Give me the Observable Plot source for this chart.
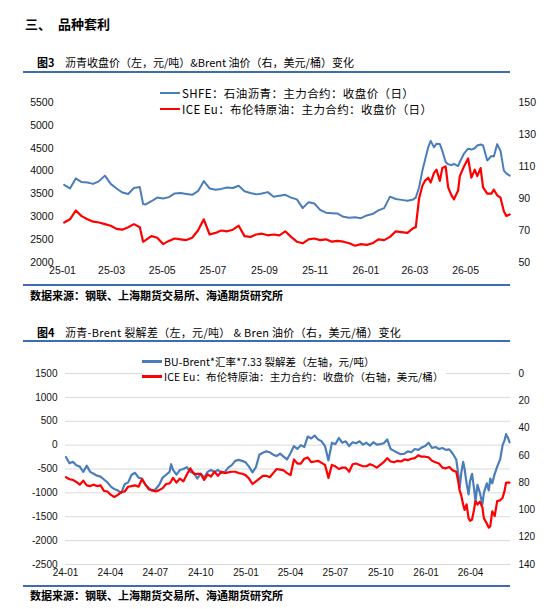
<!DOCTYPE html>
<html>
<head>
<meta charset="utf-8">
<script src="https://cdn.jsdelivr.net/npm/d3@7"></script>
<script src="https://cdn.jsdelivr.net/npm/@observablehq/plot@0.6"></script>
<style>
  body { margin: 0; background: #fff; }
  #page { position: relative; width: 550px; height: 609px; overflow: hidden; background: #fff;
          font-family: "Noto Sans CJK SC", sans-serif; color: #000; }
  .t { position: absolute; white-space: nowrap; }
  .rule { position: absolute; left: 23px; width: 487px; height: 2px; background: #3f6bb0; }
  .chart { position: absolute; left: 0; }
  .legend { position: absolute; background: #fff; white-space: nowrap; padding-right: 2px; }
  .legend .row { display: flex; align-items: center; }
  .legend .sw { width: 20px; height: 2.2px; margin-right: 2px; flex: none; }
</style>
</head>
<body>
<div id="page">
  <div class="t" style="left:25px;top:17px;font-size:13px;line-height:14px;font-weight:bold;">三、</div>
  <div class="t" style="left:58px;top:17px;font-size:13px;line-height:14px;font-weight:bold;">品种套利</div>

  <div class="t" style="left:37px;top:56px;font-size:11px;line-height:12px;font-weight:bold;">图3</div>
  <div class="t" style="left:65px;top:56px;font-size:11px;line-height:12px;">沥青收盘价（左，元/吨）&amp;Brent 油价（右，美元/桶）变化</div>
  <div class="rule" style="top:71px;"></div>

  <div id="chart1" class="chart" style="top:80px;"></div>
  <div class="legend" style="left:160px;top:85px;font-size:11.5px;letter-spacing:0.4px;">
    <div class="row" style="height:16px;"><div class="sw" style="background:#4a7ebb"></div>SHFE：石油沥青：主力合约：收盘价（日）</div>
    <div class="row" style="height:16px;"><div class="sw" style="background:#ff0000"></div>ICE Eu：布伦特原油：主力合约：收盘价（日）</div>
  </div>

  <div class="rule" style="top:284px;"></div>
  <div class="t" style="left:30px;top:289px;font-size:11px;line-height:13px;font-weight:bold;">数据来源：钢联、上海期货交易所、海通期货研究所</div>

  <div class="t" style="left:37px;top:326px;font-size:11px;line-height:12px;font-weight:bold;">图4</div>
  <div class="t" style="left:65px;top:326px;font-size:11px;line-height:12px;letter-spacing:0.3px;">沥青-Brent 裂解差（左，元/吨） &amp; Bren 油价（右，美元/桶）变化</div>
  <div class="rule" style="top:340px;"></div>

  <div id="chart2" class="chart" style="top:345px;"></div>
  <div class="legend" style="left:142px;top:354px;font-size:10.5px;letter-spacing:0.1px;">
    <div class="row" style="height:15px;"><div class="sw" style="background:#4a7ebb"></div>BU-Brent*汇率*7.33 裂解差（左轴，元/吨）</div>
    <div class="row" style="height:15px;"><div class="sw" style="background:#ff0000"></div>ICE Eu：布伦特原油：主力合约：收盘价（右轴，美元/桶）</div>
  </div>

  <div class="rule" style="top:585px;"></div>
  <div class="t" style="left:30px;top:589px;font-size:11px;line-height:13px;font-weight:bold;">数据来源：钢联、上海期货交易所、海通期货研究所</div>
</div>

<script>
// ---------- Figure 3: asphalt close (left, CNY/t) and Brent (right, USD/bbl) ----------
const chart1Dates = [
  "2025-01-03","2025-01-10","2025-01-17","2025-01-24","2025-01-31",
  "2025-02-07","2025-02-14","2025-02-21","2025-02-28",
  "2025-03-07","2025-03-14","2025-03-21","2025-03-28",
  "2025-04-04","2025-04-08","2025-04-11","2025-04-18","2025-04-25",
  "2025-05-02","2025-05-09","2025-05-16","2025-05-23","2025-05-30",
  "2025-06-06","2025-06-13","2025-06-20","2025-06-27",
  "2025-07-04","2025-07-11","2025-07-18","2025-07-25",
  "2025-08-01","2025-08-08","2025-08-15","2025-08-22","2025-08-29",
  "2025-09-05","2025-09-12","2025-09-19","2025-09-26",
  "2025-10-03","2025-10-10","2025-10-17","2025-10-24","2025-10-31",
  "2025-11-07","2025-11-14","2025-11-21","2025-11-28",
  "2025-12-05","2025-12-12","2025-12-19","2025-12-26",
  "2026-01-02","2026-01-09","2026-01-16","2026-01-23","2026-01-30",
  "2026-02-06","2026-02-13","2026-02-20","2026-02-27",
  "2026-03-02","2026-03-06","2026-03-10","2026-03-13","2026-03-17","2026-03-20","2026-03-24","2026-03-27","2026-03-31",
  "2026-04-03","2026-04-07","2026-04-10","2026-04-14","2026-04-17","2026-04-22","2026-04-24","2026-04-29",
  "2026-05-04","2026-05-08","2026-05-12","2026-05-15","2026-05-19","2026-05-22","2026-05-27",
  "2026-06-01","2026-06-04","2026-06-08","2026-06-12","2026-06-16","2026-06-19","2026-06-23"
];
const shfeAsphaltClose = [
  3700,3620,3840,3760,3750,
  3720,3780,3900,3720,
  3620,3530,3500,3630,
  3650,3280,3270,3340,3420,
  3400,3430,3510,3520,3500,
  3480,3560,3780,3620,
  3590,3610,3640,3630,
  3680,3560,3520,3490,3510,
  3540,3440,3460,3480,
  3420,3380,3190,3320,3290,
  3150,3090,3080,3070,
  3000,2980,2990,2970,
  3030,3060,3140,3190,3440,
  3390,3370,3350,3380,
  3420,3640,4010,4230,4520,4660,4520,4600,4590,
  4440,4200,4150,4130,4160,4110,4200,4380,
  4490,4470,4500,4560,4580,4560,4230,
  4330,4320,4590,4440,4010,3950,3900
];
const iceBrentClose1 = [
  75,77,82.5,79,77,
  75.5,75,74,73,
  71,70.5,72,74,
  72,63,64,66.5,65.5,
  61.5,63.5,65,64.5,64,
  65.5,70,77,67.5,
  68.5,70,69.5,70.5,
  73,66.5,66,67.5,68,
  67,67.5,67,69.5,
  66,63,62,64.5,65,
  64,64.5,63,63.5,
  63,62,60.5,61.5,
  61,62,64.5,64,66,
  69.5,69,68.5,71.5,
  72,90,98,101,103,100,106,108,101,
  109,110,97,92,89.5,95,104,110,
  115,103,108,104,109,97,93,
  93,95.5,92,90.5,82,79,80
];
const chart1Ticks = ["2025-01-01","2025-03-01","2025-05-01","2025-07-01","2025-09-01","2025-11-01","2026-01-01","2026-03-01","2026-05-01"];
const chart1LeftTicks = [2000,2500,3000,3500,4000,4500,5000,5500];
const chart1RightTicks = [50,70,90,110,130,150];

// ---------- Figure 4: BU-Brent crack (left, CNY/t) and Brent (right, reversed) ----------
const chart2Dates = [
  "2024-01-02","2024-01-09","2024-01-16","2024-01-23","2024-01-30",
  "2024-02-06","2024-02-13","2024-02-20","2024-02-27",
  "2024-03-05","2024-03-12","2024-03-19","2024-03-26",
  "2024-04-02","2024-04-09","2024-04-16","2024-04-23","2024-04-30",
  "2024-05-07","2024-05-14","2024-05-21","2024-05-28",
  "2024-06-04","2024-06-11","2024-06-18","2024-06-25",
  "2024-07-02","2024-07-09","2024-07-16","2024-07-23","2024-07-30",
  "2024-08-02","2024-08-06","2024-08-13","2024-08-20","2024-08-27",
  "2024-09-03","2024-09-10","2024-09-17","2024-09-24",
  "2024-10-01","2024-10-08","2024-10-15","2024-10-22","2024-10-29",
  "2024-11-05","2024-11-12","2024-11-19","2024-11-26",
  "2024-12-03","2024-12-10","2024-12-17","2024-12-24","2024-12-31",
  "2025-01-07","2025-01-14","2025-01-21","2025-01-28",
  "2025-02-04","2025-02-11","2025-02-18","2025-02-25",
  "2025-03-04","2025-03-11","2025-03-18","2025-03-25",
  "2025-04-01","2025-04-08","2025-04-15","2025-04-22","2025-04-29",
  "2025-05-06","2025-05-13","2025-05-20","2025-05-27",
  "2025-06-03","2025-06-10","2025-06-17","2025-06-24",
  "2025-07-01","2025-07-08","2025-07-15","2025-07-22","2025-07-29",
  "2025-08-05","2025-08-12","2025-08-19","2025-08-26",
  "2025-09-02","2025-09-09","2025-09-16","2025-09-23","2025-09-30",
  "2025-10-07","2025-10-14","2025-10-21","2025-10-28",
  "2025-11-04","2025-11-11","2025-11-18","2025-11-25",
  "2025-12-02","2025-12-09","2025-12-16","2025-12-23","2025-12-30",
  "2026-01-06","2026-01-13","2026-01-20","2026-01-27",
  "2026-02-03","2026-02-10","2026-02-17","2026-02-24",
  "2026-03-03","2026-03-07","2026-03-10","2026-03-13","2026-03-17","2026-03-20","2026-03-24","2026-03-28","2026-03-31",
  "2026-04-04","2026-04-08","2026-04-11","2026-04-15","2026-04-20","2026-04-25","2026-04-28",
  "2026-05-04","2026-05-08","2026-05-11","2026-05-15","2026-05-20","2026-05-25","2026-05-31",
  "2026-06-05","2026-06-09","2026-06-12","2026-06-16","2026-06-19"
];
const buBrentCrack = [
  -250,-380,-350,-420,-450,
  -560,-430,-560,-600,
  -640,-660,-720,-780,
  -870,-920,-950,-1000,-820,
  -780,-620,-580,-680,
  -700,-830,-900,-960,
  -920,-830,-680,-620,-560,
  -400,-520,-620,-520,-500,
  -460,-560,-580,-700,
  -600,-680,-560,-520,-560,
  -520,-580,-560,-470,
  -420,-330,-310,-330,-360,
  -450,-570,-460,-200,
  -160,-130,-150,-200,
  -230,-180,-240,-300,
  -170,-20,-80,0,-40,
  180,140,200,120,
  80,-20,-320,50,
  20,150,50,80,-20,
  60,40,80,10,
  50,-10,60,10,20,
  40,120,-80,-120,
  -160,-190,-180,-130,
  -150,-80,-100,-50,-20,
  50,-60,-40,-80,
  -60,-100,-90,-180,
  -300,-600,-890,-600,-350,-500,-800,-1030,-750,
  -600,-900,-1170,-830,-1000,-1240,-1000,
  -800,-950,-700,-800,-600,-450,-300,
  0,100,230,150,60
];
const iceBrentClose2 = [
  76,77.5,78,79.5,81.5,
  78.5,82,82.5,81.5,
  82.5,82,86,86.5,
  89,90.5,89,87,86.5,
  83,82.5,82,83,
  77.5,81.5,85,85.5,
  86.5,85.5,84,81,80.5,
  79,76.5,80,77,79,
  74,69.5,73.5,73.5,
  73.5,78,74,75.5,72,
  75,72,73,72.5,
  72,72,73,73.5,74.5,
  77,81,79,77,
  75,75,76,73,
  70,70.5,71,73,
  74.5,63,66,66,62.5,
  61.5,65,64.5,64,
  65.5,67,76.5,67,
  68,70,69,69,72,
  66.5,66,67,68,
  68,66.5,67.5,69,67,
  65,62,64.5,65,
  64,64.5,63,63.5,
  62.5,62,60,61,61,
  61.5,64,65,66,
  69,69.5,68.5,71,
  72,79,86,89,96,100,96,106,108,
  107,100,93.5,96,94,98,106,
  110,113,112,101,104.5,93.5,93,
  91,86,80,80,80
];
const chart2Ticks = ["2024-01-01","2024-04-01","2024-07-01","2024-10-01","2025-01-01","2025-04-01","2025-07-01","2025-10-01","2026-01-01","2026-04-01"];
const chart2LeftTicks = [-2500,-2000,-1500,-1000,-500,0,500,1000,1500];
const chart2RightTicks = [0,20,40,60,80,100,120,140];

const BLUE = "#4a7ebb";
const RED = "#ff0000";
const axisFont = '"Liberation Sans", Arial, sans-serif';
const plain = v => String(v);

// Right-axis values are placed on the left scale through a linear map
const toLeft1 = r => 2000 + (r - 50) * 35;
const toRight1 = l => (l - 2000) / 35 + 50;
const toLeft2 = r => 1500 - r * 4000 / 140;
const toRight2 = l => (1500 - l) * 140 / 4000;

const rows1 = chart1Dates.map((d, i) => ({date: new Date(d), asphalt: shfeAsphaltClose[i], brent: iceBrentClose1[i]}));
const rows2 = chart2Dates.map((d, i) => ({date: new Date(d), crack: buBrentCrack[i], brent: iceBrentClose2[i]}));

const plot1 = Plot.plot({
  width: 550, height: 202,
  marginLeft: 62, marginRight: 40, marginTop: 22, marginBottom: 20,
  style: {background: "transparent", fontFamily: axisFont, fontSize: "10.5px", color: "#111"},
  x: {type: "utc", domain: [new Date("2025-01-01"), new Date("2026-06-24")]},
  y: {domain: [2000, 5500]},
  marks: [
    Plot.axisY(chart1LeftTicks, {anchor: "left", tickSize: 0, tickPadding: 9, label: null, tickFormat: plain}),
    Plot.axisY(chart1RightTicks.map(toLeft1), {anchor: "right", tickSize: 0, tickPadding: 8, label: null,
      tickFormat: v => String(Math.round(toRight1(v)))}),
    Plot.axisX(chart1Ticks.map(d => new Date(d)), {tickSize: 0, tickPadding: 4, label: null,
      tickFormat: d3.utcFormat("%y-%m")}),
    Plot.lineY(rows1, {x: "date", y: "asphalt", stroke: BLUE, strokeWidth: 2}),
    Plot.lineY(rows1, {x: "date", y: d => toLeft1(d.brent), stroke: RED, strokeWidth: 2.2})
  ]
});
document.getElementById("chart1").appendChild(plot1);

const plot2 = Plot.plot({
  width: 550, height: 239,
  marginLeft: 65, marginRight: 40, marginTop: 28, marginBottom: 20,
  style: {background: "transparent", fontFamily: axisFont, fontSize: "10px", color: "#111"},
  x: {type: "utc", domain: [new Date("2024-01-01"), new Date("2026-06-21")]},
  y: {domain: [-2500, 1500]},
  marks: [
    Plot.gridY(chart2LeftTicks, {stroke: "#d9d9d9", strokeOpacity: 1, strokeWidth: 1}),
    Plot.axisY(chart2LeftTicks, {anchor: "left", tickSize: 0, tickPadding: 8, label: null, tickFormat: plain}),
    Plot.axisY(chart2RightTicks.map(toLeft2), {anchor: "right", tickSize: 0, tickPadding: 8, label: null,
      tickFormat: v => String(Math.round(toRight2(v)))}),
    Plot.axisX(chart2Ticks.map(d => new Date(d)), {tickSize: 0, tickPadding: 4, label: null,
      tickFormat: d3.utcFormat("%y-%m")}),
    Plot.lineY(rows2, {x: "date", y: "crack", stroke: BLUE, strokeWidth: 2.2}),
    Plot.lineY(rows2, {x: "date", y: d => toLeft2(d.brent), stroke: RED, strokeWidth: 2.2})
  ]
});
document.getElementById("chart2").appendChild(plot2);
</script>
</body>
</html>
